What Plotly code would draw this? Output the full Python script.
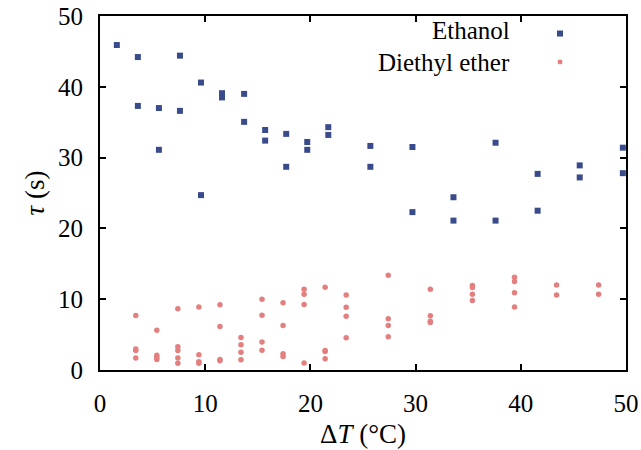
import plotly.graph_objects as go

# Ethanol data (delta T in degC, tau in s)
eth_x = [1.6, 3.6, 3.6, 5.6, 5.6, 7.6, 7.6, 9.6, 9.6, 11.6, 11.6, 13.7, 13.7,
         15.7, 15.7, 17.7, 17.7, 19.7, 19.7, 21.7, 21.7, 25.7, 25.7, 29.7, 29.7,
         33.6, 33.6, 37.6, 37.6, 41.6, 41.6, 45.6, 45.6, 49.7, 49.7]
eth_y = [45.9, 44.2, 37.3, 37.0, 31.1, 44.4, 36.6, 40.6, 24.7, 39.1, 38.5, 39.0, 35.05,
         33.9, 32.4, 33.35, 28.7, 32.2, 31.1, 34.3, 33.2, 31.65, 28.7, 31.5, 22.3,
         24.4, 21.1, 32.1, 21.1, 27.7, 22.5, 28.9, 27.2, 31.4, 27.8]

# Diethyl ether data
die_x = [3.4, 3.4, 3.4, 3.4,
         5.4, 5.4, 5.4, 5.4,
         7.4, 7.4, 7.4, 7.4, 7.4,
         9.4, 9.4, 9.4, 9.4,
         11.4, 11.4, 11.4, 11.4,
         13.4, 13.4, 13.4, 13.4,
         15.4, 15.4, 15.4, 15.4,
         17.4, 17.4, 17.4, 17.4,
         19.4, 19.4, 19.4, 19.4,
         21.4, 21.4, 21.4, 21.4,
         23.4, 23.4, 23.4, 23.4,
         27.4, 27.4, 27.4, 27.4,
         31.4, 31.4, 31.4, 31.4,
         35.4, 35.4, 35.4, 35.4,
         39.4, 39.4, 39.4, 39.4,
         43.4, 43.4,
         47.4, 47.4]
die_y = [7.7, 2.95, 2.75, 1.7,
         5.6, 2.1, 1.8, 1.5,
         8.65, 3.3, 2.75, 1.7, 0.97,
         8.9, 2.15, 1.15, 0.97,
         9.2, 6.15, 1.5, 1.3,
         4.6, 3.55, 2.5, 1.45,
         10.0, 7.75, 3.95, 2.8,
         9.5, 6.3, 2.3, 1.9,
         11.4, 10.7, 9.25, 1.0,
         11.7, 2.75, 2.6, 1.6,
         10.6, 8.85, 7.6, 4.55,
         13.4, 7.25, 6.3, 4.7,
         11.4, 7.65, 6.9, 6.7,
         11.95, 11.65, 10.7, 9.8,
         13.1, 12.5, 10.9, 8.9,
         12.0, 10.6,
         12.0, 10.7]

x_ticks = [0, 10, 20, 30, 40, 50]
y_ticks = [0, 10, 20, 30, 40, 50]
series_names = ["Ethanol", "Diethyl ether"]

ETH_COLOR = "#3a4b8c"
DIE_COLOR = "#e3807f"
FONT = "Liberation Serif"

fig = go.Figure()
fig.add_trace(go.Scatter(x=eth_x, y=eth_y, mode="markers", name=series_names[0],
                         marker=dict(symbol="square", size=6, color=ETH_COLOR, line=dict(width=0))))
fig.add_trace(go.Scatter(x=die_x, y=die_y, mode="markers", name=series_names[1],
                         marker=dict(symbol="circle", size=5.5, color=DIE_COLOR, line=dict(width=0))))

axis_common = dict(showline=True, linecolor="black", linewidth=2, mirror="ticks",
                   ticks="inside", ticklen=6, tickwidth=1.5, tickcolor="black",
                   showgrid=False, zeroline=False, automargin=False,
                   tickfont=dict(family=FONT, size=25, color="black"))

fig.update_xaxes(range=[0, 50], tickvals=x_ticks, ticktext=[str(v) for v in x_ticks],
                 title=dict(text="Δ<i>T</i> (°C)", font=dict(family=FONT, size=27, color="black"),
                            standoff=8),
                 ticklabelstandoff=10, **axis_common)
fig.update_yaxes(range=[0, 50], tickvals=y_ticks, ticktext=[str(v) for v in y_ticks],
                 title=dict(text="<i>τ</i> (s)", font=dict(family=FONT, size=27, color="black"),
                            standoff=6),
                 ticklabelstandoff=10, **axis_common)

# Legend: text right-aligned with marker on the right (as in the original)
fig.add_annotation(xref="paper", yref="paper", x=0.781, y=0.9604, text=series_names[0],
                   showarrow=False, xanchor="right", yanchor="middle", borderpad=0,
                   font=dict(family=FONT, size=25, color="black"))
fig.add_annotation(xref="paper", yref="paper", x=0.781, y=0.8699, text=series_names[1],
                   showarrow=False, xanchor="right", yanchor="middle", borderpad=0,
                   font=dict(family=FONT, size=25, color="black"))
fig.add_shape(type="rect", xref="paper", yref="paper", x0=0.8688, x1=0.8802, y0=0.9420, y1=0.9590,
              fillcolor=ETH_COLOR, line=dict(width=0))
fig.add_shape(type="circle", xref="paper", yref="paper", x0=0.8698, x1=0.8793, y0=0.8628, y1=0.8769,
              fillcolor=DIE_COLOR, line=dict(width=0))

fig.update_layout(width=641, height=450, showlegend=False,
                  margin=dict(l=100, r=15, t=16, b=80, pad=0, autoexpand=False),
                  paper_bgcolor="white", plot_bgcolor="white",
                  font=dict(family=FONT, size=25, color="black"))

fig.write_html("out.html", config={"displayModeBar": False},
               post_script="document.body.style.margin='0';")
